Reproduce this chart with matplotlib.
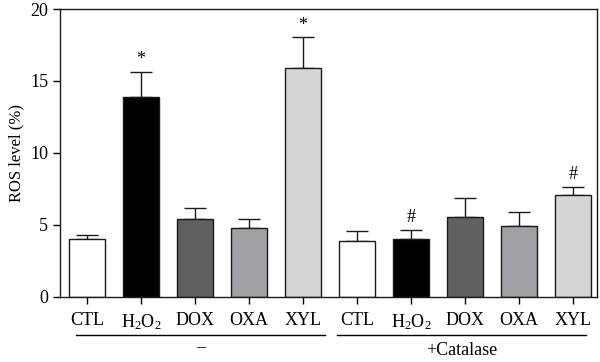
import matplotlib.pyplot as plt
import numpy as np

plt.rcParams['font.family'] = 'Liberation Serif'
plt.rcParams['mathtext.fontset'] = 'custom'
plt.rcParams['mathtext.rm'] = 'Liberation Serif'
plt.rcParams['mathtext.it'] = 'Liberation Serif:italic'
plt.rcParams['mathtext.default'] = 'regular'

labels = ['CTL', r'H$_2$O$_2$', 'DOX', 'OXA', 'XYL'] * 2
means = [4.0, 13.9, 5.4, 4.77, 15.9, 3.91, 4.0, 5.58, 4.91, 7.06]
errors = [0.28, 1.75, 0.78, 0.67, 2.13, 0.65, 0.67, 1.27, 0.97, 0.58]
colors = ['#ffffff', '#000000', '#606060', '#a1a1a5', '#d5d5d5'] * 2
marks = ['', '*', '', '', '*', '', '#', '', '', '#']
groups = ['–', '+Catalase']

fig = plt.figure(figsize=(6, 3.62), dpi=100)
ax = fig.add_axes([0.1, 0.18, 0.895, 0.795])

x = np.arange(len(means))
ax.bar(x, means, width=0.667, color=colors, edgecolor='#1a1a1a', linewidth=1.0, zorder=2)
ax.errorbar(x, means, yerr=[np.zeros(len(errors)), errors], fmt='none',
            ecolor='#1a1a1a', elinewidth=1.0, capsize=7.8, capthick=1.0, zorder=1)

for xi, m, e, s in zip(x, means, errors, marks):
    if s:
        ax.text(xi, m + e + 0.25, s, ha='center', va='bottom', fontsize=13)

ax.set_xlim(-0.5, 9.45)
ax.set_ylim(0, 20)
ax.set_yticks([0, 5, 10, 15, 20])
ax.set_xticks(x)
ax.set_xticklabels(labels, fontsize=13)
ax.tick_params(axis='y', labelsize=13, direction='out', length=5, width=1)
ax.tick_params(axis='x', direction='out', length=5, width=1, pad=6)
ax.set_ylabel('ROS level (%)', fontsize=12)
for sp in ax.spines.values():
    sp.set_linewidth(1.0)
    sp.set_color('#1a1a1a')

trans = ax.get_xaxis_transform()
spans = [(-0.2, 4.41), (4.63, 9.24)]
label_y = [-0.175, -0.185]
for (x0, x1), g, ly in zip(spans, groups, label_y):
    ax.plot([x0, x1], [-0.132, -0.132], color='black', lw=1.0, transform=trans, clip_on=False)
    ax.text((x0 + x1) / 2, ly, g, ha='center', va='center', fontsize=13, transform=trans)

fig.savefig('out.png', dpi=100)
